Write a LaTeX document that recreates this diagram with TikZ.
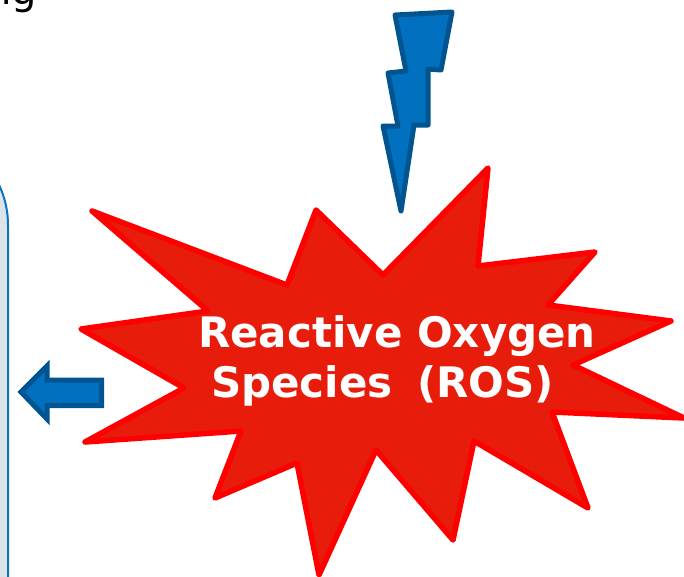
\documentclass[tikz,border=0pt]{standalone}
\usepackage{fontspec}
\setmainfont{DejaVu Sans}
\tikzset{
  boltline/.style={color=boltedge, fill=boltfill, line width=5pt},
  starline/.style={color=staredge, fill=starfill, line width=5.5pt},
  startext/.style={color=white, font=\bfseries\fontsize{42}{50}\selectfont, align=center}
}
\begin{document}
\begin{tikzpicture}[yscale=-1, x=1pt, y=1pt, line join=round, line cap=round]
% Color definitions
\definecolor{boltfill}{rgb}{0,0.44,0.75}
\definecolor{boltedge}{rgb}{0,0.33,0.56}
\definecolor{starfill}{rgb}{0.91,0.11,0.04}
\definecolor{staredge}{rgb}{1,0,0}
\definecolor{panelfill}{rgb}{0.86,0.89,0.92}
\definecolor{paneledge}{rgb}{0.05,0.45,0.75}
% End of color definitions
\useasboundingbox (0,0) rectangle (684,576);
\clip (0,0) rectangle (684,576);
% Cut-off caption
\node[anchor=base west, inner sep=0pt, font=\fontsize{40}{46}\selectfont] (caption) at (-14,4) {ng};
% Panel at the left edge
\draw[color=paneledge, fill=panelfill, line width=2pt, rounded corners=94] (-300,131) rectangle (8,800);
% Arrow
\draw[boltline, line join=miter] (21,392) -- (47,366) -- (47,380) -- (101.5,380) -- (101.5,405.5) -- (47,405.5) -- (47,419) -- cycle;
% Bolt
\draw[boltline] (395,15) -- (452,12) -- (441,70) -- (428,69) -- (428,125) -- (414,125) -- (401,211) -- (383,126) -- (398,126) -- (388,73) -- (406,71) -- cycle;
% Star
\draw[starline] (488,168) -- (478,266) -- (595,252) -- (548,305) -- (671,321) -- (573,365) -- (684,418) -- (552,412) -- (588,508) -- (474,441) -- (453,540) -- (376,450) -- (319,575) -- (297,463) -- (215,498) -- (241,431) -- (85,442) -- (184,388) -- (81,329) -- (208,311) -- (92,211) -- (287,285) -- (316,210) -- (383,275) -- cycle;
\node[startext] (rosname) at (397,361) {Reactive Oxygen\\Species\hspace{10pt} (ROS)\hspace{29pt}\mbox{}};
\end{tikzpicture}
\end{document}
